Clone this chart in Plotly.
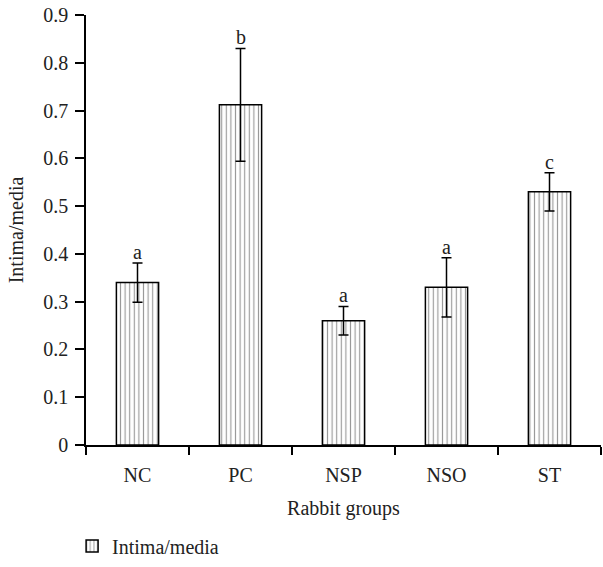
import plotly.graph_objects as go

groups = ["NC", "PC", "NSP", "NSO", "ST"]
values = [0.34, 0.712, 0.26, 0.33, 0.53]
errors = [0.041, 0.118, 0.03, 0.062, 0.04]
letters = ["a", "b", "a", "a", "c"]
series_name = "Intima/media"

FONT = "Liberation Serif"
FS = 20

fig = go.Figure()
fig.add_trace(go.Bar(
    x=groups, y=values, name=series_name, width=0.41,
    marker=dict(color="white", line=dict(color="black", width=1.5),
                pattern=dict(shape="|", size=4.6, solidity=0.25, fgcolor="#333333", bgcolor="white")),
    error_y=dict(type="data", array=errors, visible=True, color="black", thickness=1.5, width=5),
    showlegend=True,
))
for g, v, e, l in zip(groups, values, errors, letters):
    fig.add_annotation(x=g, y=v + e, text=l, showarrow=False, yanchor="bottom", yshift=-2,
                       font=dict(family=FONT, size=FS, color="#222"))

fig.update_layout(
    width=603, height=567,
    margin=dict(l=86, r=2, t=15, b=113),
    paper_bgcolor="white", plot_bgcolor="white",
    font=dict(family=FONT, size=FS, color="#222"),
    showlegend=True,
    legend=dict(orientation="h", x=-0.027, xanchor="left", y=-0.235, yanchor="middle",
                font=dict(family=FONT, size=FS, color="#222")),
    xaxis=dict(showline=True, linecolor="black", linewidth=1.5, ticks="outside", tickson="boundaries",
               ticklen=8, tickwidth=1.5, tickcolor="black", showgrid=False, automargin=False,
               range=[-0.5, 4.5], ticklabelstandoff=11,
               title=dict(text="Rabbit groups", font=dict(family=FONT, size=FS), standoff=16)),
    yaxis=dict(range=[0, 0.9], dtick=0.1, showline=True, linecolor="black", linewidth=1.5,
               ticks="outside", ticklen=9, tickwidth=1.5, tickcolor="black", showgrid=False,
               zeroline=False, automargin=False, ticklabelstandoff=3,
               title=dict(text="Intima/media", font=dict(family=FONT, size=FS), standoff=14)),
)
fig.write_html("out.html", config={"displayModeBar": False},
               post_script="document.body.style.margin='0';document.body.style.padding='0';")
